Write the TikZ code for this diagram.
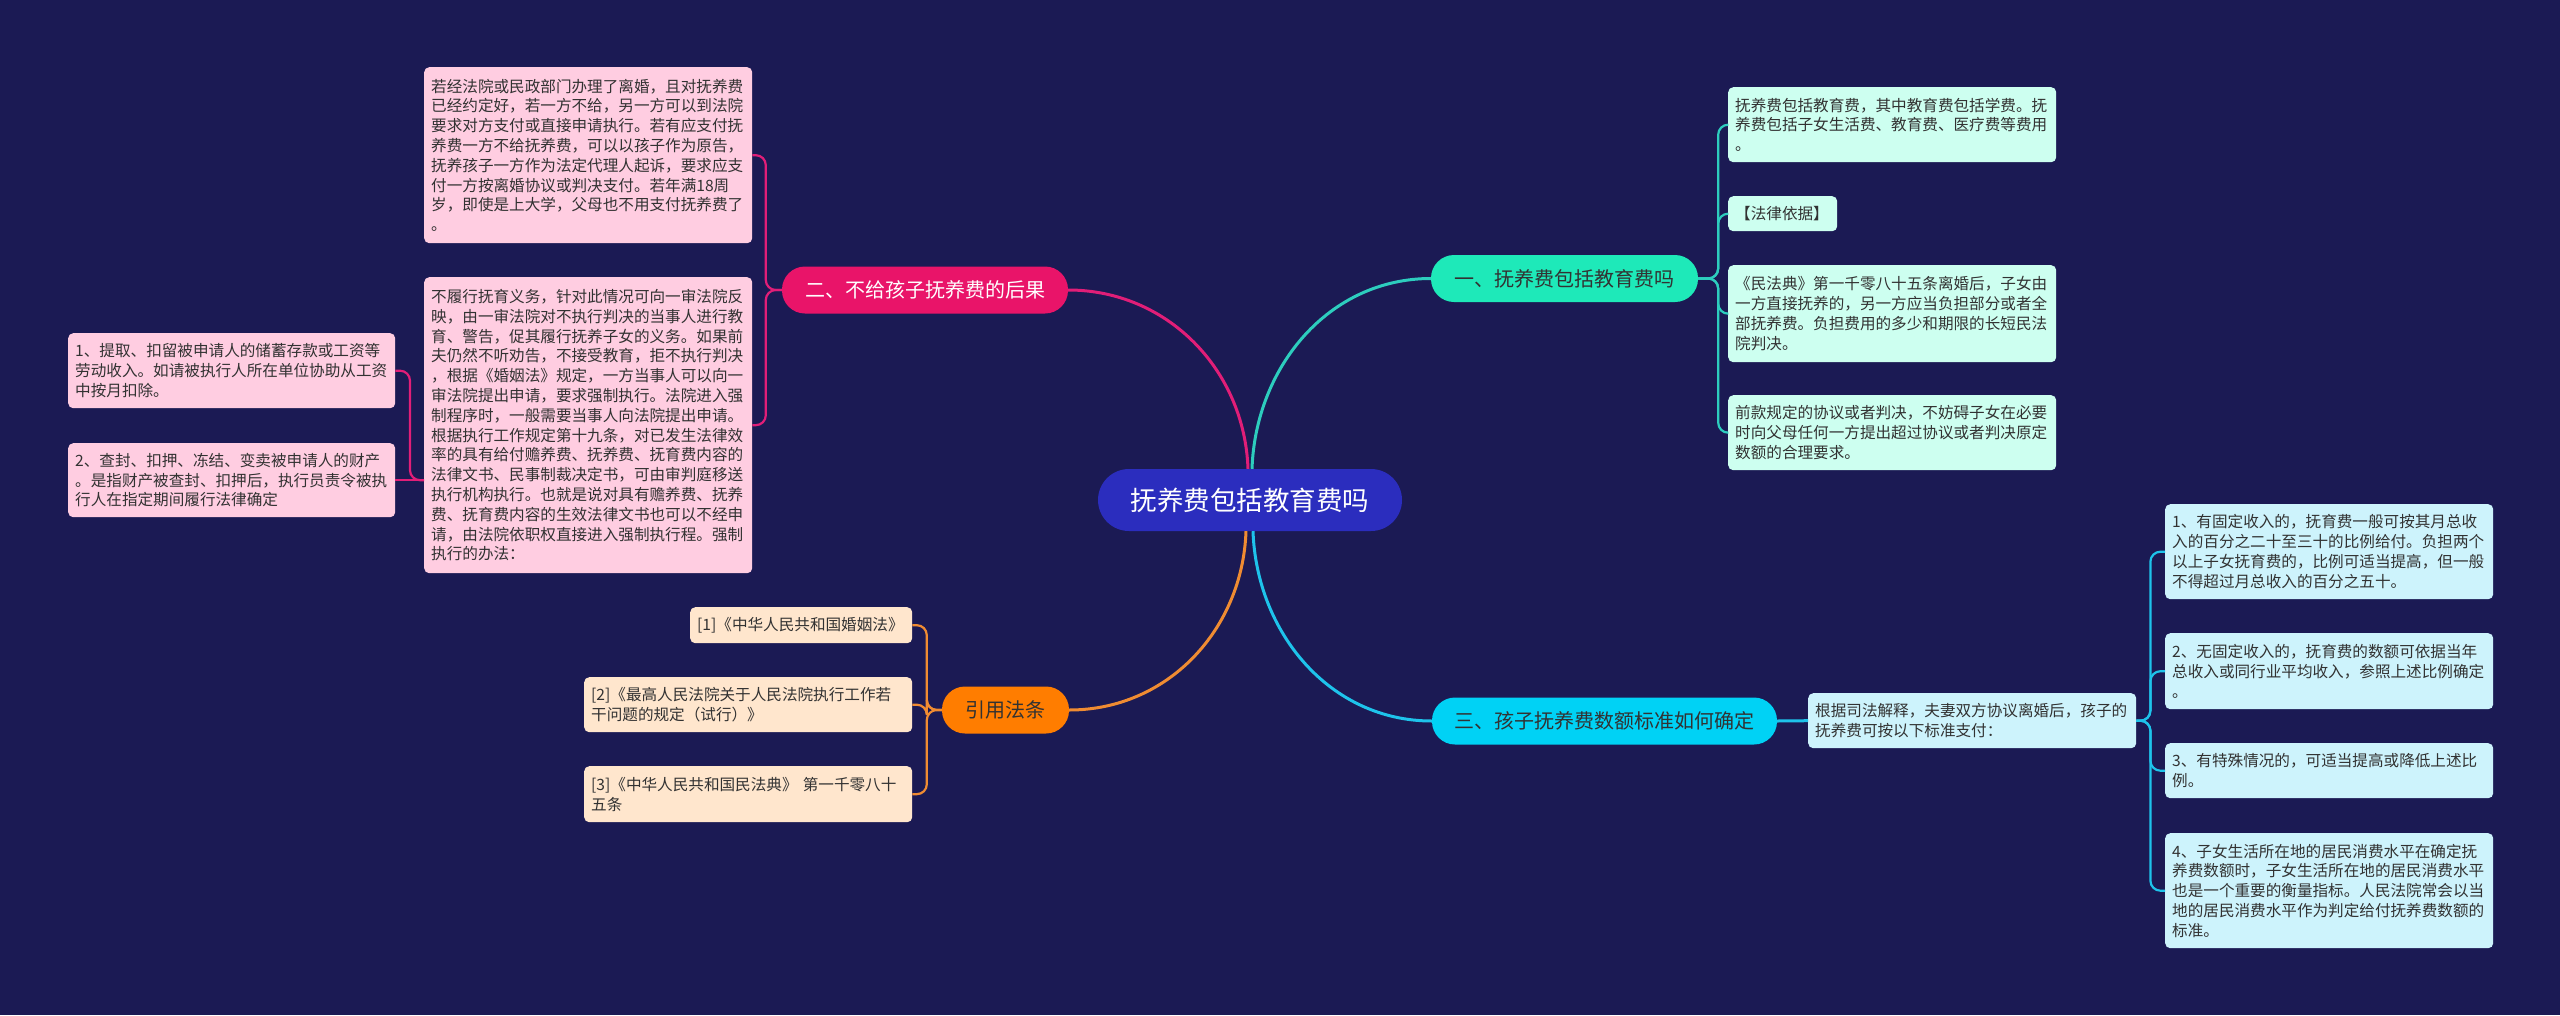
\documentclass[tikz,border=0pt]{standalone}
\usepackage{fontspec}
\setmainfont{Noto Sans CJK SC}
\usepackage{tikz}
\definecolor{mapbg}{RGB}{27,26,84}
\definecolor{maproot}{RGB}{43,45,190}
\definecolor{mapteal}{RGB}{30,233,185}
\definecolor{mappink}{RGB}{233,20,105}
\definecolor{maporange}{RGB}{255,125,0}
\definecolor{mapcyan}{RGB}{0,210,245}
\definecolor{linteal}{RGB}{45,205,190}
\definecolor{linpink}{RGB}{225,30,120}
\definecolor{linorange}{RGB}{240,140,50}
\definecolor{lincyan}{RGB}{30,195,235}
\definecolor{boxpink}{RGB}{255,205,225}
\definecolor{boxpeach}{RGB}{255,230,205}
\definecolor{boxmint}{RGB}{205,255,240}
\definecolor{boxcyan}{RGB}{205,243,252}
\definecolor{maptext}{RGB}{50,50,50}
\tikzset{
  rt/.style  ={fill=maproot, text=white, rounded corners=31pt, minimum width=304pt, minimum height=62pt, inner sep=0pt, font=\fontsize{26.5}{30}\selectfont},
  br/.style  ={rounded corners=23pt, minimum height=47pt, inner sep=0pt, font=\fontsize{20}{24}\selectfont},
  bx/.style  ={anchor=north west, rounded corners=5pt, inner xsep=7pt, inner ysep=0pt, align=left, text=maptext, font=\fontsize{15.6}{19.8}\selectfont},
  lk/.style  ={line width=2.2pt, rounded corners=10pt},
  lkm/.style ={line width=3pt},
}
\begin{document}
\begin{tikzpicture}[x=1pt,y=-1pt]
  \fill[mapbg] (0,0) rectangle (2560,1015);
  \node[rt] (root) at (1250,500) {抚养费包括教育费吗};
  \node[br,fill=mapteal,text=maptext,minimum width=267pt] (one) at (1564.5,278.5) {一、抚养费包括教育费吗};
  \node[br,fill=mappink,text=white,minimum width=286pt] (two) at (925,290) {二、不给孩子抚养费的后果};
  \node[br,fill=mapcyan,text=maptext,minimum width=345pt] (three) at (1604.5,721) {三、孩子抚养费数额标准如何确定};
  \node[br,fill=maporange,text=maptext,minimum width=127pt] (cite) at (1005.5,710) {引用法条};
  \node[bx,fill=boxmint,text width=314pt,minimum height=75pt] (incl) at (1728,87) {抚养费包括教育费，其中教育费包括学费。抚\\养费包括子女生活费、教育费、医疗费等费用\\。};
  \node[bx,fill=boxmint,text width=95pt,minimum height=35pt] (basis) at (1728,196) {【法律依据】};
  \node[bx,fill=boxmint,text width=314pt,minimum height=97pt] (code) at (1728,265) {《民法典》第一千零八十五条离婚后，子女由\\一方直接抚养的，另一方应当负担部分或者全\\部抚养费。负担费用的多少和期限的长短民法\\院判决。};
  \node[bx,fill=boxmint,text width=314pt,minimum height=75pt] (extra) at (1728,395) {前款规定的协议或者判决，不妨碍子女在必要\\时向父母任何一方提出超过协议或者判决原定\\数额的合理要求。};
  \node[bx,fill=boxpink,text width=314pt,minimum height=176pt] (agreed) at (424,67) {若经法院或民政部门办理了离婚，且对抚养费\\已经约定好，若一方不给，另一方可以到法院\\要求对方支付或直接申请执行。若有应支付抚\\养费一方不给抚养费，可以以孩子作为原告，\\抚养孩子一方作为法定代理人起诉，要求应支\\付一方按离婚协议或判决支付。若年满18周\\岁，即使是上大学，父母也不用支付抚养费了\\。};
  \node[bx,fill=boxpink,text width=314pt,minimum height=296pt] (enforce) at (424,277) {不履行抚育义务，针对此情况可向一审法院反\\映，由一审法院对不执行判决的当事人进行教\\育、警告，促其履行抚养子女的义务。如果前\\夫仍然不听劝告，不接受教育，拒不执行判决\\，根据《婚姻法》规定，一方当事人可以向一\\审法院提出申请，要求强制执行。法院进入强\\制程序时，一般需要当事人向法院提出申请。\\根据执行工作规定第十九条，对已发生法律效\\率的具有给付赡养费、抚养费、抚育费内容的\\法律文书、民事制裁决定书，可由审判庭移送\\执行机构执行。也就是说对具有赡养费、抚养\\费、抚育费内容的生效法律文书也可以不经申\\请，由法院依职权直接进入强制执行程。强制\\执行的办法：};
  \node[bx,fill=boxpink,text width=313pt,minimum height=75pt] (wage) at (68,333) {1、提取、扣留被申请人的储蓄存款或工资等\\劳动收入。如请被执行人所在单位协助从工资\\中按月扣除。};
  \node[bx,fill=boxpink,text width=313pt,minimum height=74pt] (seize) at (68,443) {2、查封、扣押、冻结、变卖被申请人的财产\\。是指财产被查封、扣押后，执行员责令被执\\行人在指定期间履行法律确定};
  \node[bx,fill=boxpeach,text width=208pt,minimum height=36pt] (ref1) at (690,607) {[1]《中华人民共和国婚姻法》};
  \node[bx,fill=boxpeach,text width=314pt,minimum height=55pt] (ref2) at (584,677) {[2]《最高人民法院关于人民法院执行工作若\\干问题的规定（试行）》};
  \node[bx,fill=boxpeach,text width=314pt,minimum height=56pt] (ref3) at (584,766) {[3]《中华人民共和国民法典》 第一千零八十\\五条};
  \node[bx,fill=boxcyan,text width=314pt,minimum height=55pt] (interp) at (1808,693) {根据司法解释，夫妻双方协议离婚后，孩子的\\抚养费可按以下标准支付：};
  \node[bx,fill=boxcyan,text width=314pt,minimum height=95pt] (fixed) at (2165,504) {1、有固定收入的，抚育费一般可按其月总收\\入的百分之二十至三十的比例给付。负担两个\\以上子女抚育费的，比例可适当提高，但一般\\不得超过月总收入的百分之五十。};
  \node[bx,fill=boxcyan,text width=314pt,minimum height=76pt] (nofix) at (2165,633) {2、无固定收入的，抚育费的数额可依据当年\\总收入或同行业平均收入，参照上述比例确定\\。};
  \node[bx,fill=boxcyan,text width=314pt,minimum height=55pt] (special) at (2165,743) {3、有特殊情况的，可适当提高或降低上述比\\例。};
  \node[bx,fill=boxcyan,text width=314pt,minimum height=115pt] (local) at (2165,833) {4、子女生活所在地的居民消费水平在确定抚\\养费数额时，子女生活所在地的居民消费水平\\也是一个重要的衡量指标。人民法院常会以当\\地的居民消费水平作为判定给付抚养费数额的\\标准。};
  \draw[lkm,linteal] ([xshift=2pt]root.north) to[out=88,in=180] (one.west);
  \draw[lkm,linpink] ([xshift=-2pt]root.north) to[out=92,in=0] (two.east);
  \draw[lkm,linorange] ([xshift=-4pt]root.south) to[out=-92,in=0] (cite.east);
  \draw[lkm,lincyan] ([xshift=3pt]root.south) to[out=-88,in=180] (three.west);
  \draw[lk,linteal] (one.east) -- ++(20,0) |- (incl.west);
  \draw[lk,linteal] (one.east) -- ++(20,0) |- (basis.west);
  \draw[lk,linteal] (one.east) -- ++(20,0) |- (code.west);
  \draw[lk,linteal] (one.east) -- ++(20,0) |- (extra.west);
  \draw[lk,linpink] (two.west) -- ++(-16,0) |- (agreed.east);
  \draw[lk,linpink] (two.west) -- ++(-16,0) |- (enforce.east);
  \draw[lk,linpink] (enforce.west |- seize.east) -- ++(-14,0) |- (wage.east);
  \draw[lk,linpink] (enforce.west |- seize.east) -- (seize.east);
  \draw[lk,linorange] (cite.west) -- ++(-15,0) |- (ref1.east);
  \draw[lk,linorange] (cite.west) -- ++(-15,0) |- (ref2.east);
  \draw[lk,linorange] (cite.west) -- ++(-15,0) |- (ref3.east);
  \draw[lkm,lincyan] (three.east) -- (interp.west);
  \draw[lk,lincyan] (interp.east) -- ++(14,0) |- (fixed.west);
  \draw[lk,lincyan] (interp.east) -- ++(14,0) |- (nofix.west);
  \draw[lk,lincyan] (interp.east) -- ++(14,0) |- (special.west);
  \draw[lk,lincyan] (interp.east) -- ++(14,0) |- (local.west);
\end{tikzpicture}
\end{document}
